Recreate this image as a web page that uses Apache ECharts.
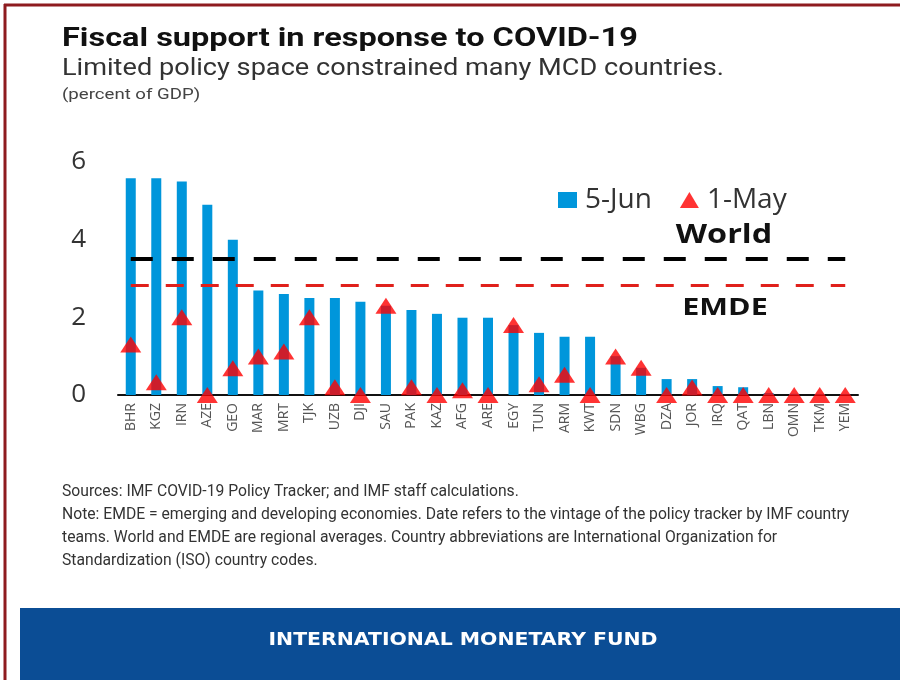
<!DOCTYPE html>
<html>
<head>
<meta charset="utf-8">
<script src="https://cdn.jsdelivr.net/npm/echarts@6/dist/echarts.min.js"></script>
<style>html,body{margin:0;padding:0;background:#fff}#chart{width:900px;height:680px}</style>
</head>
<body>
<div id="chart"></div>
<script>
const categories = ['BHR','KGZ','IRN','AZE','GEO','MAR','MRT','TJK','UZB','DJI','SAU','PAK','KAZ','AFG','ARE','EGY','TUN','ARM','KWT','SDN','WBG','DZA','JOR','IRQ','QAT','LBN','OMN','TKM','YEM'];
const jun5 = [5.58,5.58,5.5,4.9,4.0,2.69,2.6,2.5,2.5,2.4,2.3,2.19,2.09,1.99,1.99,1.8,1.6,1.5,1.5,1.0,0.7,0.41,0.41,0.23,0.2,0.05,0.03,0.02,0.02];
const may1 = [1.3,0.33,2.0,0.0,0.69,0.99,1.12,2.0,0.2,0.0,2.3,0.2,0.0,0.12,0.0,1.8,0.28,0.52,0.0,0.99,0.7,0.0,0.19,0.0,0.0,0.0,0.0,0.0,0.0];
const worldAvg = 3.52;
const emdeAvg = 2.83;
const yTicks = [0, 2, 4, 6];

const chart = echarts.init(document.getElementById('chart'), null, {renderer: 'canvas'});
const fontMain = 'Roboto, "Open Sans", sans-serif';
const noteFont = 'Roboto, sans-serif';
function txt(x, y, text, font, fill, sx, extra) {
  return Object.assign({type: 'text', x: x, y: y, scaleX: sx || 1,
    style: {text: text, font: font, fill: fill, verticalAlign: 'middle'}}, extra || {});
}
const option = {
  animation: false,
  backgroundColor: '#ffffff',
  grid: {left: 118, right: 42, top: 162, bottom: 285, containLabel: false},
  legend: {
    data: [{name: '5-Jun', icon: 'rect'}, {name: '1-May', icon: 'triangle'}],
    left: 553, top: 181,
    itemWidth: 19, itemHeight: 16, itemGap: 28,
    textStyle: {fontSize: 28, color: '#333', fontFamily: '"Open Sans", sans-serif', padding: [0, 0, 0, 3]}
  },
  xAxis: {
    type: 'category', data: categories,
    axisLine: {lineStyle: {color: '#111', width: 2}},
    axisTick: {show: false},
    axisLabel: {rotate: 90, fontSize: 14, color: '#555', margin: 8, fontFamily: '"Open Sans", sans-serif'}
  },
  yAxis: {
    type: 'value', min: 0, max: 6, interval: 2,
    splitLine: {show: false}, axisLine: {show: false}, axisTick: {show: false},
    axisLabel: {fontSize: 26, color: '#333', margin: 32, fontFamily: '"Open Sans", sans-serif',
      formatter: v => yTicks.includes(v) ? String(v) : ''}
  },
  series: [
    {
      name: '5-Jun', type: 'bar', data: jun5, barWidth: 10,
      itemStyle: {color: '#0096DB'},
      markLine: {
        silent: true, symbol: 'none', label: {show: false},
        data: [
          [{coord: [0, worldAvg], lineStyle: {color: '#000', width: 4, type: [22, 19]}}, {coord: [28, worldAvg]}],
          [{coord: [0, emdeAvg], lineStyle: {color: '#E0201B', width: 3, type: [18, 17]}}, {coord: [28, emdeAvg]}]
        ]
      }
    },
    {
      name: '1-May', type: 'scatter', data: may1, symbol: 'triangle', symbolSize: [21, 16],
      itemStyle: {color: '#FF0000'}, z: 5
    }
  ],
  graphic: [
    {type: 'line', shape: {x1: 5, y1: 4, x2: 5, y2: 680}, style: {stroke: '#8E1B1F', lineWidth: 3}},
    {type: 'line', shape: {x1: 4, y1: 5, x2: 900, y2: 5}, style: {stroke: '#8E1B1F', lineWidth: 3}},
    txt(62, 40, 'Fiscal support in response to COVID-19', 'bold 25px ' + fontMain, '#111', 1.3),
    txt(62, 69, 'Limited policy space constrained many MCD countries.', '23px ' + fontMain, '#333', 1.18),
    txt(62, 95, '(percent of GDP)', '15px ' + fontMain, '#444', 1.24),
    txt(724, 235, 'World', 'bold 27px "Open Sans", sans-serif', '#111', 1.2, {}),
    txt(725, 308, 'EMDE', 'bold 24px "Open Sans", sans-serif', '#111', 1.27, {}),
    txt(62, 492, 'Sources: IMF COVID-19 Policy Tracker; and IMF staff calculations.', '15.7px ' + noteFont, '#333'),
    txt(62, 515, 'Note: EMDE = emerging and developing economies. Date refers to the vintage of the policy tracker by IMF country', '15.7px ' + noteFont, '#333'),
    txt(62, 538, 'teams. World and EMDE are regional averages. Country abbreviations are International Organization for', '15.7px ' + noteFont, '#333'),
    txt(62, 561, 'Standardization (ISO) country codes.', '15.7px ' + noteFont, '#333'),
    {type: 'rect', shape: {x: 20, y: 608, width: 880, height: 72}, style: {fill: '#0B4D95'}},
    txt(463, 641, 'INTERNATIONAL MONETARY FUND', 'bold 17px "DejaVu Sans", sans-serif', '#ffffff', 1.2)
  ]
};
option.graphic.forEach(g => {
  if (g.type === 'text' && (g.style.text === 'World' || g.style.text === 'EMDE' || g.style.text === 'INTERNATIONAL MONETARY FUND')) {
    g.style.align = 'center';
  }
});
chart.setOption(option);
</script>
</body>
</html>
